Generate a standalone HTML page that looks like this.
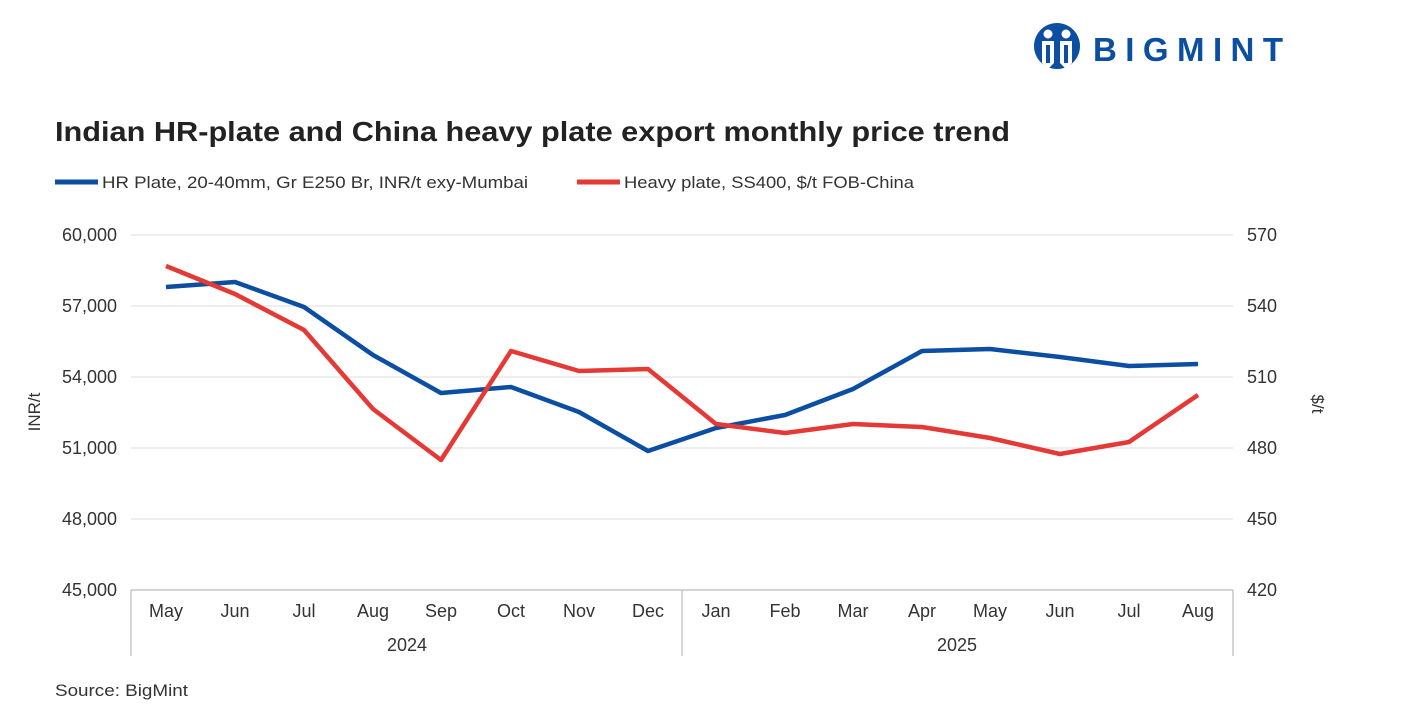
<!DOCTYPE html>
<html><head><meta charset="utf-8"><style>
body{margin:0;background:#fff;}
svg{display:block;font-family:"Liberation Sans",sans-serif;}
</style></head><body>
<svg width="1417" height="715" viewBox="0 0 1417 715">
<rect width="1417" height="715" fill="#fff"/>
<g fill="#0b4ea2">
<circle cx="1057" cy="46" r="23"/>
<circle cx="1048" cy="34" r="4.5" fill="#fff"/>
<circle cx="1066" cy="34" r="4.5" fill="#fff"/>
<path d="M1042 41 h12 v22 l-6 6 l-6 -6z M1060 41 h12 v22 l-6 6 l-6 -6z" fill="#fff"/>
<path d="M1046 45 h4 v18 h-4z M1064 45 h4 v18 h-4z M1054 52 l3 8 l3 -8z"/>
<text x="1093" y="61" font-size="33" font-weight="bold" textLength="190" lengthAdjust="spacing">BIGMINT</text>
</g>
<text x="55" y="141" font-size="28" font-weight="bold" fill="#222" textLength="955" lengthAdjust="spacingAndGlyphs">Indian HR-plate and China heavy plate export monthly price trend</text>
<line x1="55" y1="182" x2="98" y2="182" stroke="#0b4ea2" stroke-width="5"/>
<text x="102" y="188" font-size="17" fill="#333" textLength="426" lengthAdjust="spacingAndGlyphs">HR Plate, 20-40mm, Gr E250 Br, INR/t exy-Mumbai</text>
<line x1="577" y1="182" x2="620" y2="182" stroke="#e53935" stroke-width="5"/>
<text x="624" y="188" font-size="17" fill="#333" textLength="290" lengthAdjust="spacingAndGlyphs">Heavy plate, SS400, $/t FOB-China</text>
<g stroke="#e8e8e8" stroke-width="1.5">
<line x1="131" y1="235" x2="1233" y2="235"/>
<line x1="131" y1="306" x2="1233" y2="306"/>
<line x1="131" y1="377" x2="1233" y2="377"/>
<line x1="131" y1="448" x2="1233" y2="448"/>
<line x1="131" y1="519" x2="1233" y2="519"/>
</g>
<g stroke="#bbb" stroke-width="1.2">
<line x1="131" y1="590" x2="1233" y2="590"/>
<line x1="131" y1="590" x2="131" y2="656"/>
<line x1="682" y1="590" x2="682" y2="656"/>
<line x1="1233" y1="590" x2="1233" y2="656"/>
</g>
<g font-size="18" fill="#333" text-anchor="end">
<text x="117" y="241">60,000</text><text x="117" y="312">57,000</text><text x="117" y="383">54,000</text>
<text x="117" y="454">51,000</text><text x="117" y="525">48,000</text><text x="117" y="596">45,000</text>
</g>
<g font-size="18" fill="#333" text-anchor="start">
<text x="1247" y="241">570</text><text x="1247" y="312">540</text><text x="1247" y="383">510</text>
<text x="1247" y="454">480</text><text x="1247" y="525">450</text><text x="1247" y="596">420</text>
</g>
<text transform="translate(40,412) rotate(-90)" font-size="17" fill="#333" text-anchor="middle">INR/t</text>
<text transform="translate(1312,404) rotate(90)" font-size="17" fill="#333" text-anchor="middle">$/t</text>
<g font-size="18" fill="#333" text-anchor="middle">
<text x="166" y="617">May</text><text x="235" y="617">Jun</text><text x="304" y="617">Jul</text><text x="373" y="617">Aug</text>
<text x="441" y="617">Sep</text><text x="511" y="617">Oct</text><text x="579" y="617">Nov</text><text x="648" y="617">Dec</text>
<text x="716" y="617">Jan</text><text x="785" y="617">Feb</text><text x="853" y="617">Mar</text><text x="922" y="617">Apr</text>
<text x="990" y="617">May</text><text x="1060" y="617">Jun</text><text x="1129" y="617">Jul</text><text x="1198" y="617">Aug</text>
<text x="407" y="651">2024</text><text x="957" y="651">2025</text>
</g>
<polyline fill="none" stroke="#0b4ea2" stroke-width="4.5" stroke-linejoin="round" points="166,287 235,282 304,307 373,355 441,393 511,387 579,412 648,451 716,428 785,415 853,389 922,351 990,349 1060,357 1129,366 1198,364"/>
<polyline fill="none" stroke="#e53935" stroke-width="4.5" stroke-linejoin="round" points="166,266 235,294 304,330 373,409 441,460 511,351 579,371 648,369 716,424 785,433 853,424 922,427 990,438 1060,454 1129,442 1198,395"/>
<text x="55" y="696" font-size="17" fill="#333" textLength="133" lengthAdjust="spacingAndGlyphs">Source: BigMint</text>
</svg>
</body></html>
